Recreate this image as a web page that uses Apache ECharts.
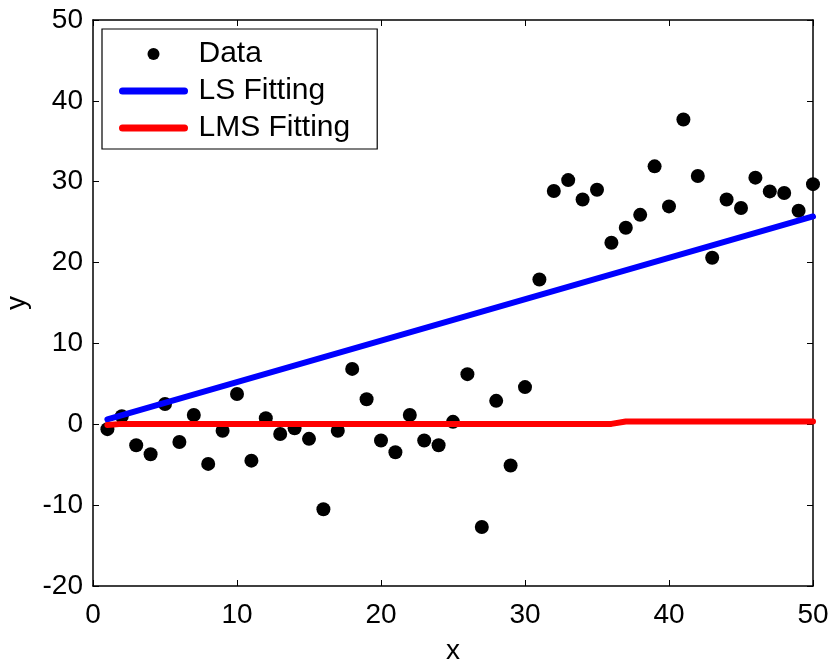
<!DOCTYPE html>
<html>
<head>
<meta charset="utf-8">
<script src="https://cdn.jsdelivr.net/npm/echarts@6/dist/echarts.min.js"></script>
<style>
html,body{margin:0;padding:0;background:#fff;}
#chart{width:831px;height:661px;}
</style>
</head>
<body>
<div id="chart"></div>
<script>
const xValues = [1,2,3,4,5,6,7,8,9,10,11,12,13,14,15,16,17,18,19,20,21,22,23,24,25,26,27,28,29,30,31,32,33,34,35,36,37,38,39,40,41,42,43,44,45,46,47,48,49,50];
const yValues = [-0.6,1.0,-2.6,-3.7,2.5,-2.2,1.15,-4.9,-0.8,3.75,-4.5,0.75,-1.2,-0.5,-1.8,-10.5,-0.8,6.85,3.1,-2.0,-3.45,1.15,-2.0,-2.6,0.3,6.2,-12.7,2.9,-5.1,4.6,17.9,28.85,30.2,27.8,29.0,22.45,24.3,25.9,31.9,26.95,37.7,30.7,20.6,27.8,26.75,30.5,28.8,28.6,26.4,29.7];
const lsX = [1, 50];
const lsY = [0.6, 25.7];
const lmsX = [1, 2, 36, 37, 50];
const lmsY = [-0.1, 0.05, 0.05, 0.35, 0.35];
const xTicks = [0,10,20,30,40,50];
const yTicks = [-20,-10,0,10,20,30,40,50];

const font = 'Liberation Sans, Arial, sans-serif';
const chart = echarts.init(document.getElementById('chart'), null, {renderer:'canvas'});

const axisCommon = {
  axisLine:{show:true, onZero:false, lineStyle:{color:'#000', width:1.5}},
  axisTick:{show:true, inside:true, length:6, lineStyle:{color:'#000', width:1}},
  splitLine:{show:false}
};

chart.setOption({
  animation:false,
  backgroundColor:'#fff',
  grid:{left:93, top:20, right:18, bottom:75, containLabel:false, outerBoundsMode:'none'},
  xAxis:[
    Object.assign({type:'value', min:xTicks[0], max:xTicks[xTicks.length-1], interval:10, position:'bottom',
      name:'x', nameLocation:'middle', nameGap:51,
      nameTextStyle:{fontFamily:font, fontSize:28, color:'#000'},
      axisLabel:{fontFamily:font, fontSize:28, color:'#000', margin:15}}, axisCommon),
    Object.assign({type:'value', min:xTicks[0], max:xTicks[xTicks.length-1], interval:10, position:'top',
      axisLabel:{show:false}}, axisCommon)
  ],
  yAxis:[
    Object.assign({type:'value', min:yTicks[0], max:yTicks[yTicks.length-1], interval:10, position:'left',
      name:'y', nameLocation:'middle', nameGap:61, nameRotate:90,
      nameTextStyle:{fontFamily:font, fontSize:28, color:'#000'},
      axisLabel:{fontFamily:font, fontSize:28, color:'#000', margin:10}}, axisCommon),
    Object.assign({type:'value', min:yTicks[0], max:yTicks[yTicks.length-1], interval:10, position:'right',
      axisLabel:{show:false}}, axisCommon)
  ],
  legend:{
    orient:'vertical', left:102, top:29,
    backgroundColor:'#fff', borderColor:'#000', borderWidth:1.2, borderRadius:0,
    padding:[10,27,6,17], itemGap:7, itemWidth:62, itemHeight:12,
    textStyle:{fontFamily:font, fontSize:30, color:'#000', lineHeight:30, padding:[0,0,0,9]},
    data:[
      {name:'Data', icon:'circle', itemStyle:{color:'#000', opacity:1}},
      {name:'LS Fitting', itemStyle:{color:'rgba(0,0,0,0)', opacity:0, borderWidth:0}, lineStyle:{color:'#0000ff', width:7, cap:'round'}},
      {name:'LMS Fitting', itemStyle:{color:'rgba(0,0,0,0)', opacity:0, borderWidth:0}, lineStyle:{color:'#ff0000', width:7, cap:'round'}}
    ]
  },
  series:[
    {name:'Data', type:'scatter', symbol:'circle', symbolSize:14, z:2,
      itemStyle:{color:'#000', opacity:1},
      data:xValues.map((x,i)=>[x,yValues[i]])},
    {name:'LS Fitting', type:'line', showSymbol:false, symbol:'none', z:3,
      lineStyle:{color:'#0000ff', width:6, cap:'round'}, itemStyle:{color:'#0000ff'},
      data:lsX.map((x,i)=>[x,lsY[i]])},
    {name:'LMS Fitting', type:'line', showSymbol:false, symbol:'none', z:4,
      lineStyle:{color:'#ff0000', width:6, cap:'round'}, itemStyle:{color:'#ff0000'},
      data:lmsX.map((x,i)=>[x,lmsY[i]])}
  ]
});
</script>
</body>
</html>
